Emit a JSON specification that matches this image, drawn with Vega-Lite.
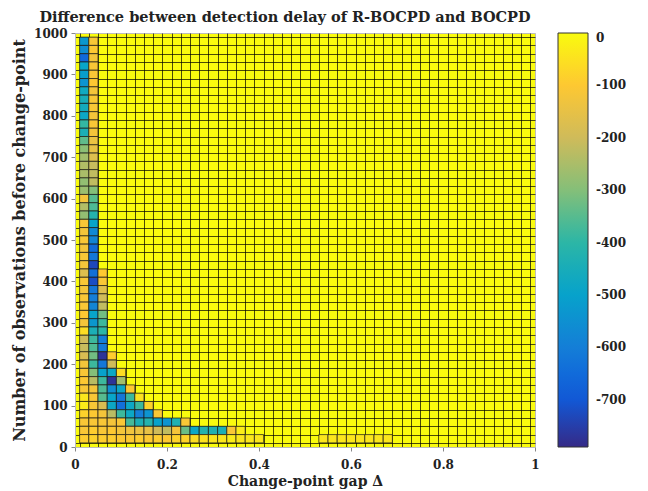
{
"$schema": "https://vega.github.io/schema/vega-lite/v6.json",
"width": 460, "height": 414,
"autosize": "none",
"padding": {"left": 75, "top": 33, "right": 113, "bottom": 44},
"background": "white",
"config": {"font": "DejaVu Serif", "view": {"fill": "#F9FB0E", "stroke": "#bbbbbb"}},
"title": {"text": "Difference between detection delay of R-BOCPD and BOCPD", "fontSize": 14.5, "fontWeight": "bold", "font": "DejaVu Serif", "anchor": "middle", "dx": -20, "offset": 2, "color": "#222"},
"data": {"values": [
{"d":0.02,"n":980,"z":-530},{"d":0.02,"n":960,"z":-560},{"d":0.02,"n":940,"z":-660},{"d":0.02,"n":920,"z":-490},{"d":0.02,"n":900,"z":-510},{"d":0.02,"n":880,"z":-540},{"d":0.02,"n":860,"z":-470},{"d":0.02,"n":840,"z":-450},{"d":0.02,"n":820,"z":-460},{"d":0.02,"n":800,"z":-480},{"d":0.02,"n":780,"z":-390},{"d":0.02,"n":760,"z":-440},{"d":0.02,"n":740,"z":-340},{"d":0.02,"n":720,"z":-290},{"d":0.02,"n":700,"z":-260},{"d":0.02,"n":680,"z":-240},{"d":0.02,"n":660,"z":-250},{"d":0.02,"n":640,"z":-280},{"d":0.02,"n":620,"z":-270},{"d":0.02,"n":600,"z":-120},{"d":0.02,"n":580,"z":-240},{"d":0.02,"n":560,"z":-280},{"d":0.02,"n":540,"z":-110},{"d":0.02,"n":520,"z":-120},{"d":0.02,"n":500,"z":-110},{"d":0.02,"n":480,"z":-120},{"d":0.02,"n":460,"z":-110},{"d":0.02,"n":440,"z":-120},{"d":0.02,"n":420,"z":-170},{"d":0.02,"n":400,"z":-110},{"d":0.02,"n":380,"z":-120},{"d":0.02,"n":360,"z":-110},{"d":0.02,"n":340,"z":-110},{"d":0.02,"n":320,"z":-100},{"d":0.02,"n":300,"z":-120},{"d":0.02,"n":280,"z":-60},{"d":0.02,"n":260,"z":-200},{"d":0.02,"n":240,"z":-210},{"d":0.02,"n":220,"z":-180},{"d":0.02,"n":200,"z":-120},{"d":0.02,"n":180,"z":-110},{"d":0.02,"n":160,"z":-100},{"d":0.02,"n":140,"z":-110},{"d":0.02,"n":120,"z":-40},{"d":0.02,"n":100,"z":-30},{"d":0.02,"n":80,"z":-80},{"d":0.02,"n":60,"z":-110},{"d":0.02,"n":40,"z":-110},{"d":0.02,"n":20,"z":-90},
{"d":0.04,"n":980,"z":-110},{"d":0.04,"n":960,"z":-100},{"d":0.04,"n":940,"z":-120},{"d":0.04,"n":920,"z":-110},{"d":0.04,"n":900,"z":-110},{"d":0.04,"n":880,"z":-100},{"d":0.04,"n":860,"z":-120},{"d":0.04,"n":840,"z":-110},{"d":0.04,"n":820,"z":-110},{"d":0.04,"n":800,"z":-120},{"d":0.04,"n":780,"z":-110},{"d":0.04,"n":760,"z":-120},{"d":0.04,"n":740,"z":-140},{"d":0.04,"n":720,"z":-150},{"d":0.04,"n":700,"z":-170},{"d":0.04,"n":680,"z":-210},{"d":0.04,"n":660,"z":-220},{"d":0.04,"n":640,"z":-220},{"d":0.04,"n":620,"z":-300},{"d":0.04,"n":600,"z":-350},{"d":0.04,"n":580,"z":-360},{"d":0.04,"n":560,"z":-420},{"d":0.04,"n":540,"z":-490},{"d":0.04,"n":520,"z":-570},{"d":0.04,"n":500,"z":-580},{"d":0.04,"n":480,"z":-650},{"d":0.04,"n":460,"z":-620},{"d":0.04,"n":440,"z":-730},{"d":0.04,"n":420,"z":-640},{"d":0.04,"n":400,"z":-720},{"d":0.04,"n":380,"z":-620},{"d":0.04,"n":360,"z":-600},{"d":0.04,"n":340,"z":-580},{"d":0.04,"n":320,"z":-490},{"d":0.04,"n":300,"z":-530},{"d":0.04,"n":280,"z":-440},{"d":0.04,"n":260,"z":-380},{"d":0.04,"n":240,"z":-360},{"d":0.04,"n":220,"z":-320},{"d":0.04,"n":200,"z":-380},{"d":0.04,"n":180,"z":-300},{"d":0.04,"n":160,"z":-230},{"d":0.04,"n":140,"z":-120},{"d":0.04,"n":120,"z":-110},{"d":0.04,"n":100,"z":-110},{"d":0.04,"n":80,"z":-100},{"d":0.04,"n":60,"z":-110},{"d":0.04,"n":40,"z":-90},{"d":0.04,"n":20,"z":-80},
{"d":0.06,"n":420,"z":-100},{"d":0.06,"n":400,"z":-110},{"d":0.06,"n":380,"z":-170},{"d":0.06,"n":360,"z":-200},{"d":0.06,"n":340,"z":-220},{"d":0.06,"n":320,"z":-320},{"d":0.06,"n":300,"z":-380},{"d":0.06,"n":280,"z":-400},{"d":0.06,"n":260,"z":-600},{"d":0.06,"n":240,"z":-610},{"d":0.06,"n":220,"z":-770},{"d":0.06,"n":200,"z":-620},{"d":0.06,"n":180,"z":-500},{"d":0.06,"n":160,"z":-380},{"d":0.06,"n":140,"z":-360},{"d":0.06,"n":120,"z":-350},{"d":0.06,"n":100,"z":-180},{"d":0.06,"n":80,"z":-120},{"d":0.06,"n":60,"z":-110},{"d":0.06,"n":40,"z":-110},{"d":0.06,"n":20,"z":-90},
{"d":0.08,"n":220,"z":-90},{"d":0.08,"n":200,"z":-200},{"d":0.08,"n":180,"z":-480},{"d":0.08,"n":160,"z":-770},{"d":0.08,"n":140,"z":-560},{"d":0.08,"n":120,"z":-490},{"d":0.08,"n":100,"z":-480},{"d":0.08,"n":80,"z":-230},{"d":0.08,"n":60,"z":-120},{"d":0.08,"n":40,"z":-100},{"d":0.08,"n":20,"z":-90},
{"d":0.10,"n":180,"z":-60},{"d":0.10,"n":160,"z":-260},{"d":0.10,"n":140,"z":-480},{"d":0.10,"n":120,"z":-620},{"d":0.10,"n":100,"z":-640},{"d":0.10,"n":80,"z":-380},{"d":0.10,"n":60,"z":-110},{"d":0.10,"n":40,"z":-120},{"d":0.10,"n":20,"z":-100},
{"d":0.12,"n":140,"z":-100},{"d":0.12,"n":120,"z":-380},{"d":0.12,"n":100,"z":-480},{"d":0.12,"n":80,"z":-480},{"d":0.12,"n":60,"z":-370},{"d":0.12,"n":40,"z":-130},{"d":0.12,"n":20,"z":-100},
{"d":0.14,"n":120,"z":-50},{"d":0.14,"n":100,"z":-380},{"d":0.14,"n":80,"z":-600},{"d":0.14,"n":60,"z":-440},{"d":0.14,"n":40,"z":-140},{"d":0.14,"n":20,"z":-90},
{"d":0.16,"n":100,"z":-80},{"d":0.16,"n":80,"z":-540},{"d":0.16,"n":60,"z":-420},{"d":0.16,"n":40,"z":-150},{"d":0.16,"n":20,"z":-100},
{"d":0.18,"n":80,"z":-110},{"d":0.18,"n":60,"z":-500},{"d":0.18,"n":40,"z":-200},{"d":0.18,"n":20,"z":-90},
{"d":0.20,"n":60,"z":-540},{"d":0.20,"n":40,"z":-220},{"d":0.20,"n":20,"z":-100},
{"d":0.22,"n":60,"z":-430},{"d":0.22,"n":40,"z":-120},{"d":0.22,"n":20,"z":-80},
{"d":0.24,"n":60,"z":-110},{"d":0.24,"n":40,"z":-330},{"d":0.24,"n":20,"z":-80},
{"d":0.26,"n":40,"z":-480},{"d":0.26,"n":20,"z":-60},
{"d":0.28,"n":40,"z":-420},{"d":0.28,"n":20,"z":-50},
{"d":0.30,"n":40,"z":-430},{"d":0.30,"n":20,"z":-40},
{"d":0.32,"n":40,"z":-440},{"d":0.32,"n":20,"z":-40},
{"d":0.34,"n":40,"z":-110},{"d":0.34,"n":20,"z":-30},
{"d":0.36,"n":40,"z":-30},{"d":0.36,"n":20,"z":-40},
{"d":0.38,"n":20,"z":-40},{"d":0.40,"n":20,"z":-40},
{"d":0.54,"n":20,"z":-40},{"d":0.56,"n":20,"z":-40},{"d":0.58,"n":20,"z":-40},{"d":0.60,"n":20,"z":-40},{"d":0.62,"n":20,"z":-40},{"d":0.64,"n":20,"z":-40},{"d":0.66,"n":20,"z":-40},{"d":0.68,"n":20,"z":-40}
]},
"transform": [
{"calculate": "datum.d - 0.01", "as": "d0"},
{"calculate": "datum.d + 0.01", "as": "d1"},
{"calculate": "datum.n - 10", "as": "n0"},
{"calculate": "datum.n + 10", "as": "n1"}
],
"layer": [
{"mark": {"type": "rect", "stroke": "#1a1a1a", "strokeWidth": 1, "strokeOpacity": 0.7},
 "encoding": {
  "x": {"field": "d0", "type": "quantitative", "scale": {"domain": [0, 1], "nice": false, "zero": false},
   "axis": {"orient": "bottom", "values": [0, 0.2, 0.4, 0.6, 0.8, 1], "format": "~g", "grid": false, "title": "Change-point gap Δ", "titleFont": "DejaVu Serif", "titleFontSize": 14, "titleFontWeight": "bold", "titleColor": "#222", "titlePadding": 4, "labelFont": "DejaVu Serif", "labelFontSize": 12, "labelFontWeight": "bold", "labelColor": "#222", "labelPadding": 8, "tickSize": 4, "tickColor": "#888", "domainColor": "#bbbbbb", "labelFlush": false}},
  "x2": {"field": "d1"},
  "y": {"field": "n0", "type": "quantitative", "scale": {"domain": [0, 1000], "nice": false, "zero": false},
   "axis": {"orient": "left", "values": [0, 100, 200, 300, 400, 500, 600, 700, 800, 900, 1000], "format": "d", "grid": false, "title": "Number of observations before change-point", "titleFont": "DejaVu Serif", "titleFontSize": 16, "titleFontWeight": "bold", "titleColor": "#222", "titlePadding": 6, "labelFont": "DejaVu Serif", "labelFontSize": 12, "labelFontWeight": "bold", "labelColor": "#222", "labelPadding": 4, "tickSize": 4, "tickColor": "#888", "domainColor": "#bbbbbb", "labelFlush": false}},
  "y2": {"field": "n1"},
  "color": {"field": "z", "type": "quantitative",
   "scale": {"domain": [-790, 0], "range": ["#352a87", "#0f5cdd", "#1481d6", "#06a4ca", "#2eb7a4", "#87bf77", "#d1bb59", "#fec832", "#f9fb0e"], "interpolate": "rgb"},
   "legend": {"orient": "none", "legendX": 483, "legendY": 0, "direction": "vertical", "gradientLength": 414, "gradientThickness": 30, "title": null, "values": [0, -100, -200, -300, -400, -500, -600, -700], "labelExpr": "datum.value == 0 ? '0' : '-' + abs(datum.value)", "labelFont": "DejaVu Serif", "labelFontSize": 12, "labelFontWeight": "bold", "labelColor": "#222", "labelOffset": 8, "labelOverlap": false, "gradientStrokeColor": "#333", "gradientStrokeWidth": 1}}
 }},
{"mark": {"type": "rect", "opacity": 0},
 "encoding": {
  "x": {"field": "d0", "type": "quantitative",
   "axis": {"orient": "top", "grid": true, "gridColor": "#000", "gridOpacity": 0.7, "gridWidth": 1, "labels": false, "ticks": false, "domain": false, "title": null,
    "values": [0.01,0.03,0.05,0.07,0.09,0.11,0.13,0.15,0.17,0.19,0.21,0.23,0.25,0.27,0.29,0.31,0.33,0.35,0.37,0.39,0.41,0.43,0.45,0.47,0.49,0.51,0.53,0.55,0.57,0.59,0.61,0.63,0.65,0.67,0.69,0.71,0.73,0.75,0.77,0.79,0.81,0.83,0.85,0.87,0.89,0.91,0.93,0.95,0.97,0.99]}},
  "x2": {"field": "d1"},
  "y": {"field": "n0", "type": "quantitative",
   "axis": {"orient": "right", "grid": true, "gridColor": "#000", "gridOpacity": 0.7, "gridWidth": 1, "labels": false, "ticks": false, "domain": false, "title": null,
    "values": [10,30,50,70,90,110,130,150,170,190,210,230,250,270,290,310,330,350,370,390,410,430,450,470,490,510,530,550,570,590,610,630,650,670,690,710,730,750,770,790,810,830,850,870,890,910,930,950,970,990]}},
  "y2": {"field": "n1"}
 }}
],
"resolve": {"axis": {"x": "independent", "y": "independent"}}
}
